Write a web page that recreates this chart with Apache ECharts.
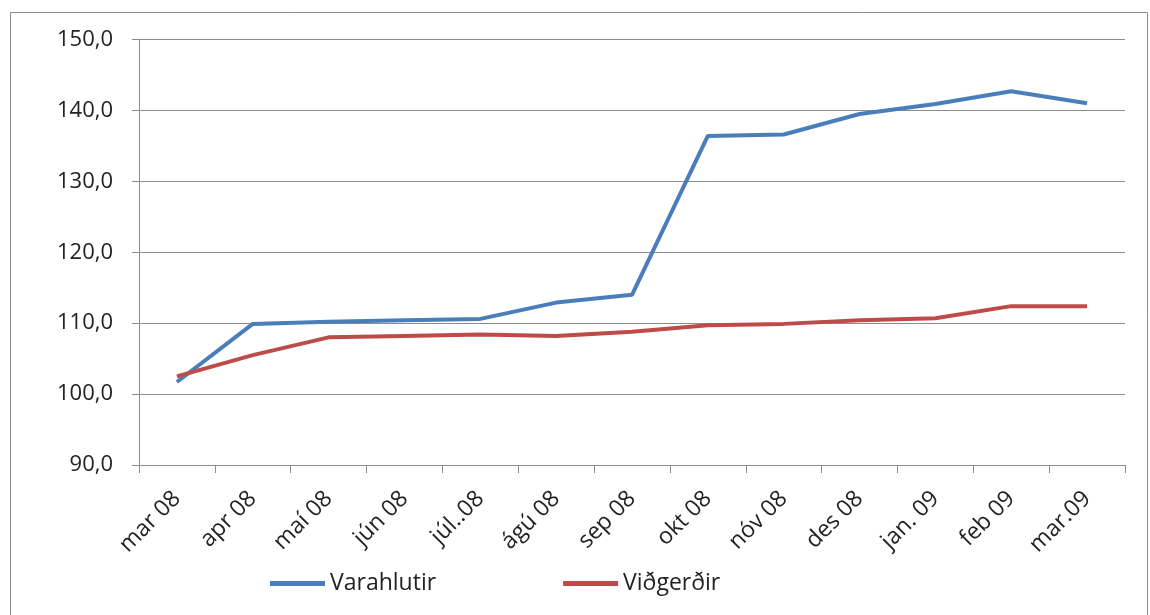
<!DOCTYPE html>
<html><head><meta charset="utf-8">
<script src="https://cdn.jsdelivr.net/npm/echarts@6/dist/echarts.min.js"></script>
<style>html,body{margin:0;padding:0;background:#fff}#c{width:1150px;height:615px}</style>
</head><body><div id="c"></div>
<script>
const categories = ['mar 08','apr 08','maí 08','jún 08','júl..08','ágú 08','sep 08','okt 08','nóv 08','des 08','jan. 09','feb 09','mar.09'];
const varahlutir = [101.7,109.9,110.2,110.4,110.6,112.9,114.0,136.4,136.6,139.5,140.9,142.7,141.0];
const vidgerdir = [102.5,105.5,108.0,108.2,108.4,108.2,108.8,109.7,109.9,110.4,110.7,112.4,112.4];
const yTicks = {min:90, max:150, interval:10};

const font = 'Open Sans';
const chart = echarts.init(document.getElementById('c'));
chart.setOption({
  animation:false,
  graphic:[{type:'rect',shape:{x:10.5,y:12.5,width:1137,height:620},style:{fill:'none',stroke:'#8c8c8c',lineWidth:1}}],
  grid:{left:139,right:25,top:39.5,bottom:150},
  legend:{top:572,left:270,padding:0,itemGap:127,itemWidth:55,itemHeight:5,icon:'rect',
    textStyle:{fontFamily:font,fontSize:23,color:'#222'},
    data:['Varahlutir','Viðgerðir']},
  xAxis:{type:'category',data:categories,boundaryGap:true,
    axisLine:{lineStyle:{color:'#8c8c8c'}},
    axisTick:{show:true,length:8,lineStyle:{color:'#8c8c8c'}},
    axisLabel:{rotate:45,fontFamily:font,fontSize:23,color:'#222',margin:30,interval:0}},
  yAxis:{type:'value',min:yTicks.min,max:yTicks.max,interval:yTicks.interval,
    axisLine:{show:true,lineStyle:{color:'#8c8c8c'}},
    axisTick:{show:true,length:7,lineStyle:{color:'#8c8c8c'}},
    splitLine:{lineStyle:{color:'#8c8c8c'}},
    axisLabel:{fontFamily:font,fontSize:22,color:'#222',margin:26,formatter:v=>v.toFixed(1).replace('.',',')}},
  series:[
    {name:'Varahlutir',type:'line',data:varahlutir,symbol:'none',lineStyle:{width:4,color:'#4a7ebb'},itemStyle:{color:'#4a7ebb'}},
    {name:'Viðgerðir',type:'line',data:vidgerdir,symbol:'none',lineStyle:{width:4,color:'#be4b48'},itemStyle:{color:'#be4b48'}}
  ]
});
</script></body></html>
